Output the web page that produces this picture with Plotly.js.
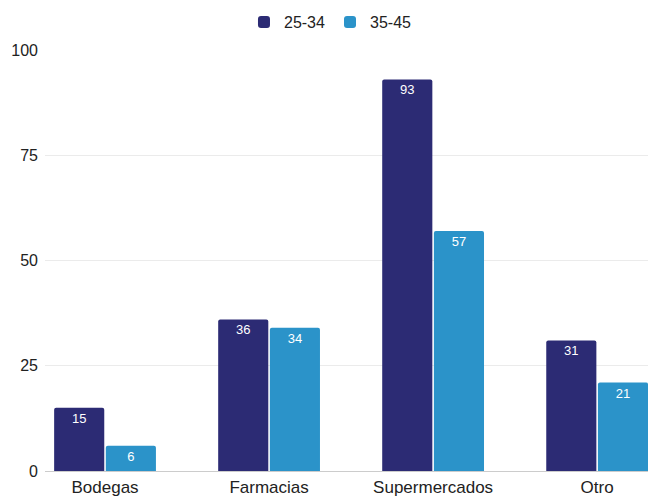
<!DOCTYPE html>
<html>
<head>
<meta charset="utf-8">
<script src="https://cdn.plot.ly/plotly-3.0.1.min.js"></script>
<style>html,body{margin:0;padding:0;background:#fff;}#chart{width:648px;height:500px;}</style>
</head>
<body>
<div id="chart"></div>
<script>
const categories = ["Bodegas", "Farmacias", "Supermercados", "Otro"];
const series1Name = "25-34";
const series1Values = [15, 36, 93, 31];
const series2Name = "35-45";
const series2Values = [6, 34, 57, 21];
const yTickValues = [0, 25, 50, 75, 100];

const textFont = {family: "Liberation Sans, Arial, sans-serif", size: 13, color: "#ffffff"};

const traces = [
  {
    type: "bar", name: series1Name, x: categories, y: series1Values,
    text: series1Values.map(String), textposition: "inside", insidetextanchor: "end",
    textfont: textFont, marker: {color: "#2c2b74", cornerradius: 2},
    hoverinfo: "none"
  },
  {
    type: "bar", name: series2Name, x: categories, y: series2Values,
    text: series2Values.map(String), textposition: "inside", insidetextanchor: "end",
    textfont: textFont, marker: {color: "#2b93c9", cornerradius: 2},
    hoverinfo: "none"
  }
];

const layout = {
  width: 648, height: 500,
  margin: {l: 45, r: 0, t: 50, b: 29},
  paper_bgcolor: "#ffffff", plot_bgcolor: "#ffffff",
  font: {family: "Liberation Sans, Arial, sans-serif", size: 16, color: "#222222"},
  barmode: "group", bargap: 0.37, bargroupgap: 0.03,
  showlegend: true,
  legend: {orientation: "h", xref: "container", yref: "container", x: 0.51, xanchor: "center", y: 0.99, yanchor: "top",
           font: {size: 16, color: "#222222"}, itemwidth: 30},
  xaxis: {range: [-0.366, 3.31], showgrid: false, showline: false, zeroline: false, ticks: "",
          tickfont: {size: 17, color: "#222222"}, ticklabelstandoff: 4},
  yaxis: {range: [0, 100], tickvals: yTickValues, ticktext: yTickValues.map(String), showgrid: true, gridcolor: "#ebebeb",
          zeroline: true, zerolinecolor: "#cccccc", zerolinewidth: 1, showline: false, ticks: "",
          tickfont: {size: 16, color: "#222222"}, ticklabelstandoff: 6}
};

Plotly.newPlot("chart", traces, layout, {displayModeBar: false, staticPlot: true});
</script>
</body>
</html>
